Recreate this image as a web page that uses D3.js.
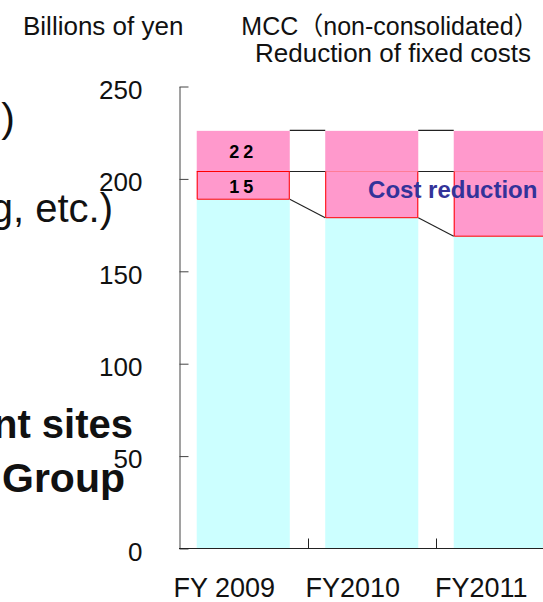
<!DOCTYPE html>
<html>
<head>
<meta charset="utf-8">
<script src="https://cdn.jsdelivr.net/npm/d3@7"></script>
<style>
  html, body { margin: 0; padding: 0; background: #fff; }
  svg { display: block; }
</style>
</head>
<body>
<script>
// Fixed costs, MCC non-consolidated (billions of yen)
const categories = ["FY 2009", "FY2010", "FY2011"];
const baseCost   = [189, 179, 169];   // remaining fixed costs (cyan)
const reduction  = [15, 25, 35];      // cost reduction block (pink, red outline)
const upperCost  = [22, 22, 22];      // upper block (pink)
const yTicks     = [0, 50, 100, 150, 200, 250];

const W = 543, H = 602;
const FONT = "'Liberation Sans', Arial, 'Noto Sans CJK JP', sans-serif";

const svg = d3.select("body").append("svg")
  .attr("width", W).attr("height", H)
  .style("font-family", FONT);

const x = d3.scaleBand()
  .domain(categories)
  .range([179, 564.5])
  .paddingInner(0.276)
  .paddingOuter(0.138);

const y = d3.scaleLinear().domain([0, 250]).range([548.5, 86.5]);

const PINK = "#FF99CC", CYAN = "#CCFFFF", RED = "#FF0000";

const rows = categories.map((c, i) => ({
  cat: c,
  base: baseCost[i],
  mid: baseCost[i] + reduction[i],
  top: baseCost[i] + reduction[i] + upperCost[i],
  i
}));

const bars = svg.append("g");

// remaining fixed costs
bars.selectAll("rect.base").data(rows).join("rect")
  .attr("x", d => x(d.cat)).attr("width", x.bandwidth())
  .attr("y", d => y(d.base)).attr("height", d => y(0) - y(d.base))
  .attr("fill", CYAN);

// reduction block
bars.selectAll("rect.mid").data(rows).join("rect")
  .attr("x", d => x(d.cat)).attr("width", x.bandwidth())
  .attr("y", d => y(d.mid)).attr("height", d => y(d.base) - y(d.mid))
  .attr("fill", PINK);

// upper block
bars.selectAll("rect.top").data(rows).join("rect")
  .attr("x", d => x(d.cat)).attr("width", x.bandwidth())
  .attr("y", d => y(d.top)).attr("height", d => y(d.mid) - y(d.top))
  .attr("fill", PINK);

// red outline of the reduction block
bars.selectAll("path.outline").data(rows).join("path")
  .attr("d", d => {
    const x0 = x(d.cat) + 0.5, x1 = x(d.cat) + x.bandwidth() - 0.5;
    return `M${x0},${y(d.mid)}V${y(d.base)}H${x1}V${y(d.mid)}`;
  })
  .attr("fill", "none").attr("stroke", RED).attr("stroke-width", 1);

bars.selectAll("line.outlineTop").data(rows).join("line")
  .attr("x1", d => x(d.cat)).attr("x2", d => x(d.cat) + x.bandwidth())
  .attr("y1", d => y(d.mid)).attr("y2", d => y(d.mid))
  .attr("stroke", RED).attr("stroke-width", 1)
  .attr("stroke-opacity", d => d.i === 0 ? 1 : 0.3);

// connector lines between neighbouring bars
const pairs = d3.pairs(rows);
const conn = svg.append("g").attr("stroke", "#222").attr("stroke-width", 1.1).attr("fill", "none");
pairs.forEach(([a, b]) => {
  const xa = x(a.cat) + x.bandwidth(), xb = x(b.cat);
  conn.append("line").attr("x1", xa).attr("x2", xb).attr("y1", y(a.top) - 0.5).attr("y2", y(b.top) - 0.5);
  conn.append("line").attr("x1", xa).attr("x2", xb).attr("y1", y(a.mid)).attr("y2", y(b.mid));
  conn.append("line").attr("x1", xa).attr("x2", xb).attr("y1", y(a.base)).attr("y2", y(b.base));
});

// y axis with inward ticks
const yAxis = d3.axisLeft(y)
  .tickValues(yTicks)
  .tickFormat(d3.format("d"))
  .tickSizeInner(-9)
  .tickSizeOuter(0)
  .tickPadding(37);

const gy = svg.append("g").attr("transform", "translate(179.5,0)").call(yAxis);
gy.select(".domain").attr("stroke", "#444");
gy.selectAll(".tick line").attr("stroke", "#444");
gy.selectAll(".tick text")
  .attr("font-family", FONT).attr("font-size", 26).attr("fill", "#111")
  .attr("dy", "0.45em");

// x axis baseline and category separators
const gx = svg.append("g").attr("stroke", "#222");
gx.append("line")
  .attr("x1", x.range()[0]).attr("x2", x.range()[1])
  .attr("y1", y(0)).attr("y2", y(0));
d3.range(1, categories.length + 1).forEach(k => {
  const xs = Math.round(x.range()[0] + k * x.step()) + 0.5;
  gx.append("line").attr("x1", xs).attr("x2", xs).attr("y1", y(0)).attr("y2", y(0) - 10);
});

svg.append("g").selectAll("text").data(rows).join("text")
  .attr("x", d => x(d.cat) + x.bandwidth() / 2 - 19)
  .attr("y", 597)
  .attr("text-anchor", "middle")
  .attr("font-size", 27).attr("fill", "#111")
  .text(d => d.cat);

// values in the first bar
const first = rows[0];
const cx = x(first.cat) + x.bandwidth() / 2;
svg.append("text")
  .attr("x", cx).attr("y", (y(first.top) + y(first.mid)) / 2)
  .attr("dy", "0.38em").attr("text-anchor", "middle")
  .attr("font-size", 18).attr("font-weight", "bold").attr("letter-spacing", 4)
  .text(upperCost[0]);
svg.append("text")
  .attr("x", cx).attr("y", (y(first.mid) + y(first.base)) / 2)
  .attr("dy", "0.42em").attr("text-anchor", "middle")
  .attr("font-size", 18).attr("font-weight", "bold").attr("letter-spacing", 4)
  .text(reduction[0]);

svg.append("text")
  .attr("x", x(categories[2]) - 1).attr("y", 198)
  .attr("text-anchor", "middle")
  .attr("font-size", 24).attr("font-weight", "bold").attr("fill", "#333399")
  .text("Cost reduction");

// headings
svg.append("text").attr("x", 23).attr("y", 35)
  .attr("font-size", 26).attr("fill", "#111").text("Billions of yen");
svg.append("text").attr("x", 390).attr("y", 35).attr("text-anchor", "middle")
  .attr("font-size", 25).attr("fill", "#111").text("MCC（non-consolidated）");
svg.append("text").attr("x", 393).attr("y", 62).attr("text-anchor", "middle")
  .attr("font-size", 26).attr("fill", "#111").text("Reduction of fixed costs");

// side text running in from the left
const side = svg.append("g").attr("fill", "#111").attr("text-anchor", "end");
side.append("text").attr("x", 15).attr("y", 132).attr("font-size", 41).text(")");
side.append("text").attr("x", 113).attr("y", 222).attr("font-size", 40).text("g, etc.)");
side.append("text").attr("x", 133).attr("y", 438).attr("font-size", 40).attr("font-weight", "bold").text("nt sites");
side.append("text").attr("x", 125).attr("y", 492).attr("font-size", 41).attr("font-weight", "bold").text("Group");
</script>
</body>
</html>
